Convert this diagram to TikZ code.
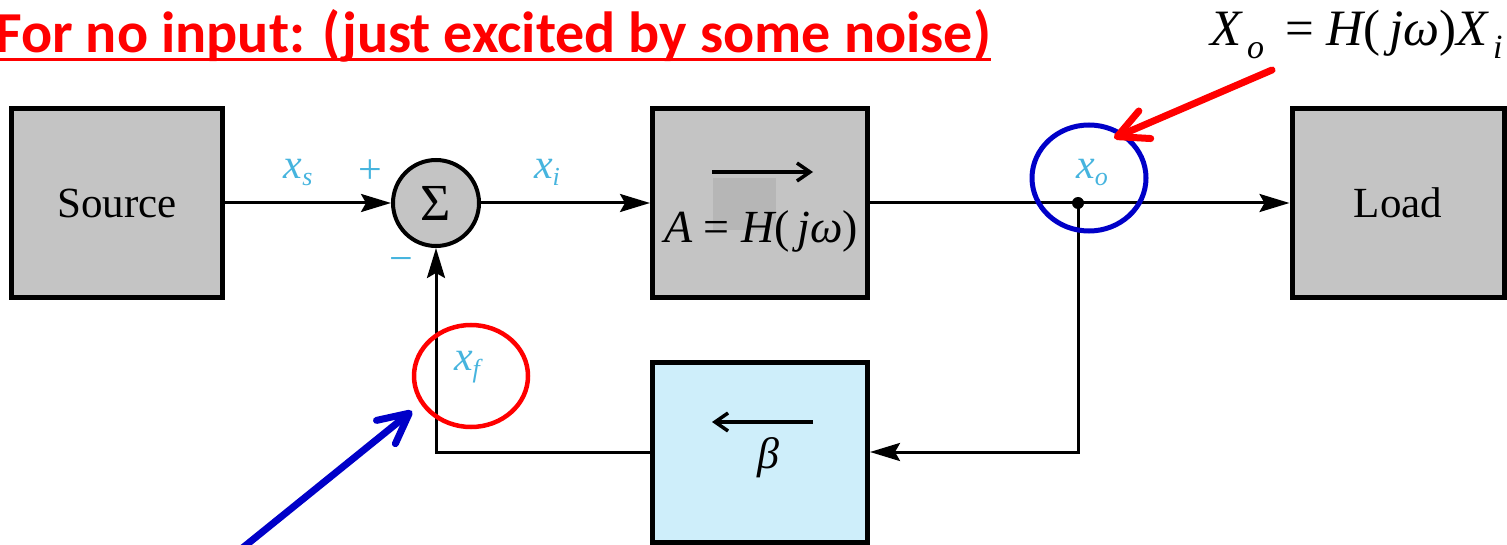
\documentclass[tikz,border=0pt]{standalone}
\usepackage{fontspec}
\setmainfont{Liberation Serif}
\newfontfamily\titlefnt{Carlito}
\usetikzlibrary{arrows.meta}
\definecolor{lbl}{RGB}{70,180,222}
\definecolor{boxgray}{RGB}{196,196,196}
\definecolor{patchgray}{RGB}{182,182,182}
\definecolor{boxblue}{RGB}{206,238,250}
\definecolor{annblue}{RGB}{0,0,200}
\newcommand\sbx[1]{{\fontsize{26}{28}\selectfont\raisebox{-7pt}{#1}}}
\begin{document}
\begin{tikzpicture}[x=1pt,y=-1pt,
  blk/.style={draw=black, line width=5pt, fill=boxgray, minimum width=211pt, minimum height=189pt, inner sep=0pt, font=\fontsize{43}{48}\selectfont},
  wire/.style={line width=3pt, draw=black},
  arr/.style={wire, -{Stealth[length=30pt,width=18pt,inset=5pt]}},
  inarr/.style={line width=3.5pt, -{Straight Barb[length=13pt,width=18pt]}},
  lab/.style={text=lbl, font=\fontsize{42}{46}\selectfont\itshape, inner sep=0pt},
  ann/.style={line width=7pt, line cap=round, -{Straight Barb[length=30pt,width=30pt,round]}},
  ring/.style={line width=4.5pt}]
\useasboundingbox (0,0) rectangle (1507,545);
% title
\node[anchor=base west, text=red, inner sep=0pt, font=\titlefnt\bfseries\fontsize{58}{64}\selectfont] (title) at (-5,53) {For no input: (just excited by some noise)};
\draw[red, line width=3pt] ([yshift=-7pt]title.base west) -- ([yshift=-7pt]title.base east);
% formula
\node[anchor=base west, inner sep=0pt, font=\fontsize{51}{54}\selectfont] (form) at (1210,46)
  {\itshape X{\fontsize{34}{36}\selectfont\raisebox{-13pt}{\,o}}\upshape\ \,=\ \itshape H\upshape(\,\itshape jω\upshape)\itshape X{\fontsize{34}{36}\selectfont\raisebox{-13pt}{\,i}}};
% blocks
\node[blk] (src) at (117,203) {Source};
\node[circle, draw=black, line width=4pt, fill=boxgray, minimum size=86pt, inner sep=0pt, font=\fontsize{52}{56}\selectfont] (sum) at (436,203) {Σ};
\node[blk, minimum width=215pt] (amp) at (760,203) {};
\node[blk, minimum width=212pt] (load) at (1398,203) {Load};
\node[blk, fill=boxblue, minimum width=215pt, minimum height=180pt] (beta) at (760,452) {};
% amp content
\fill[patchgray] (713,178) rectangle (776,230);
\coordinate (aa1) at (712,172); \coordinate (aa2) at (813,172);
\draw[inarr] (aa1) -- (aa2);
\node[anchor=base, inner sep=0pt, font=\fontsize{46}{50}\selectfont] (aeq) at (761,243) {\itshape A\upshape\ =\ \itshape H\upshape(\,\itshape jω\upshape)};
% beta content
\coordinate (bb1) at (813,422); \coordinate (bb2) at (712,422);
\draw[inarr] (bb1) -- (bb2);
\node[inner sep=0pt, font=\fontsize{44}{48}\selectfont\itshape] (bl) at (768,458) {β};
% junction
\coordinate (jn) at (1078,203);
\fill (jn) circle (6pt);
% wires
\draw[arr] (src.east) -- (sum.west);
\draw[arr] (sum.east) -- (amp.west);
\draw[arr] (amp.east) -- (load.west);
\draw[arr] (jn) |- (beta.east);
\draw[arr] (beta.west) -| (sum.south);
% labels
\node[lab] (xs) at (298,172) {x\sbx{s}};
\node[lab, font=\fontsize{42}{46}\selectfont] (plus) at (370,172) {+};
\node[lab, font=\fontsize{42}{46}\selectfont] (minus) at (401,265) {−};
\node[lab] (xi) at (547,172) {x\sbx{i}};
\node[lab] (xo) at (1092,172) {x\sbx{o}};
\node[lab] (xf) at (467,367) {x\sbx{f}};
% annotations
\draw[red, ring] (471,376) ellipse [x radius=57pt, y radius=51pt];
\draw[annblue, ring, line width=5pt] (1089,178) ellipse [x radius=57pt, y radius=53pt];
\coordinate (bt) at (240,550); \coordinate (bh) at (412,411);
\draw[annblue, ann] (bt) -- (bh);
\coordinate (rt) at (1272,70); \coordinate (rh) at (1114,138);
\draw[red, ann] (rt) -- (rh);
\end{tikzpicture}
\end{document}
